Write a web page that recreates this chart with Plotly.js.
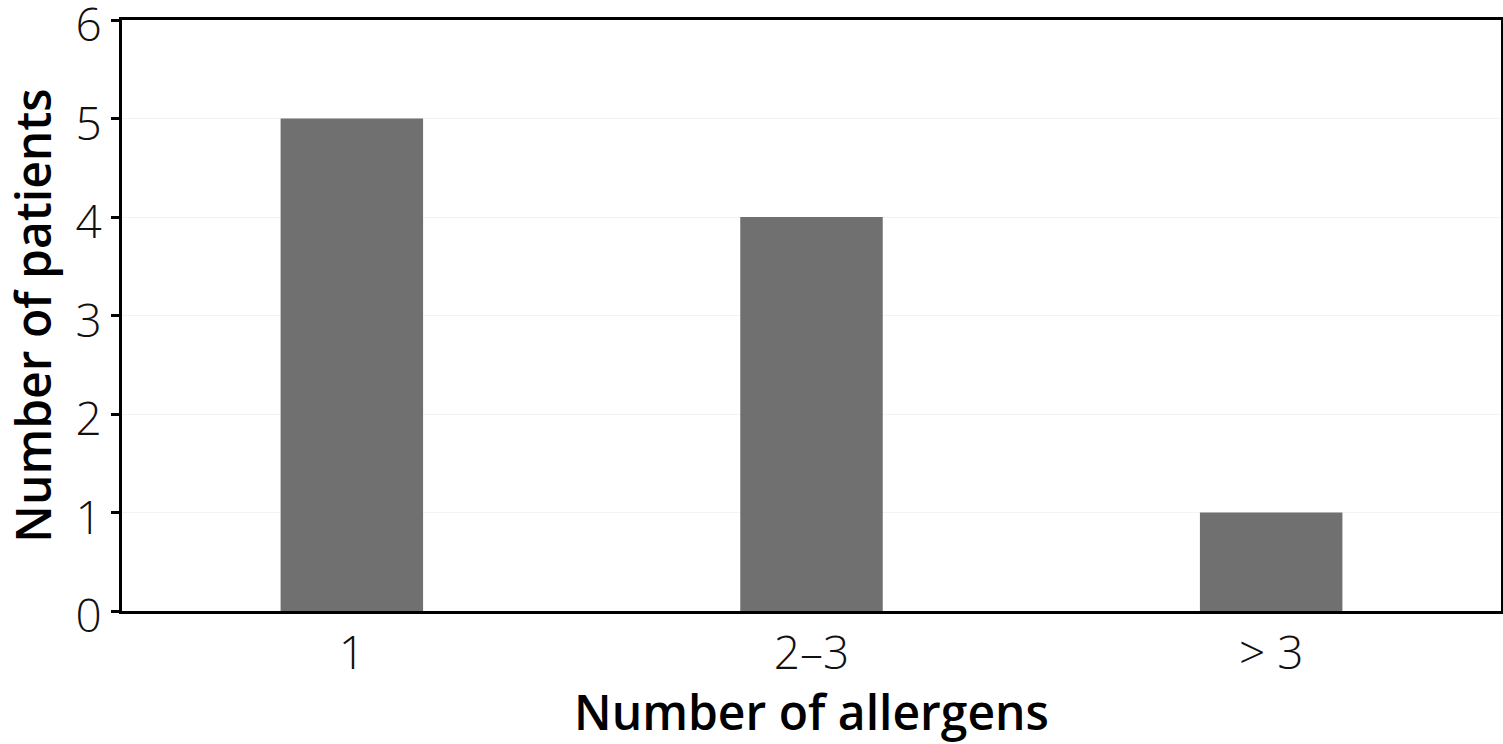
<!DOCTYPE html>
<html><head><meta charset="utf-8">
<script src="https://cdn.plot.ly/plotly-3.0.1.min.js"></script>
<style>html,body{margin:0;padding:0;background:#fff}#chart{width:1503px;height:744px}</style>
</head><body><div id="chart"></div>
<script>
const categories = ["1", "2–3", "> 3"];
const patients = [5, 4, 1];
const yTicks = [0, 1, 2, 3, 4, 5, 6];

const trace = {
  type: "bar",
  x: categories,
  y: patients,
  marker: {color: "#707070"},
  width: 0.31,
  hoverinfo: "skip"
};
const fontFam = "Open Sans, Lato, sans-serif";
const layout = {
  width: 1503, height: 744,
  margin: {l: 122, r: 2, t: 20, b: 133},
  paper_bgcolor: "#fff", plot_bgcolor: "#fff",
  showlegend: false,
  xaxis: {
    type: "category",
    showline: true, linecolor: "#000", linewidth: 3, mirror: true,
    ticks: "", showgrid: false, zeroline: false,
    tickfont: {family: fontFam, size: 46, color: "#111", weight: 300},
    title: {text: "Number of allergens", font: {family: fontFam, size: 48, color: "#000", weight: 600}, standoff: 4}
  },
  yaxis: {
    range: [0, 6], tickvals: yTicks, ticktext: yTicks.map(String),
    ticklabeloverflow: "allow", ticklabelshift: 5,
    showline: true, linecolor: "#000", linewidth: 3, mirror: true,
    ticks: "outside", ticklen: 8, tickwidth: 3, tickcolor: "#000",
    showgrid: true, gridcolor: "#f3f3f3", gridwidth: 1, zeroline: false,
    tickfont: {family: fontFam, size: 46, color: "#111", weight: 300},
    title: {text: "Number of patients", font: {family: fontFam, size: 48, color: "#000", weight: 600}, standoff: 32}
  }
};
Plotly.newPlot("chart", [trace], layout, {displayModeBar: false, staticPlot: true});
</script></body></html>
